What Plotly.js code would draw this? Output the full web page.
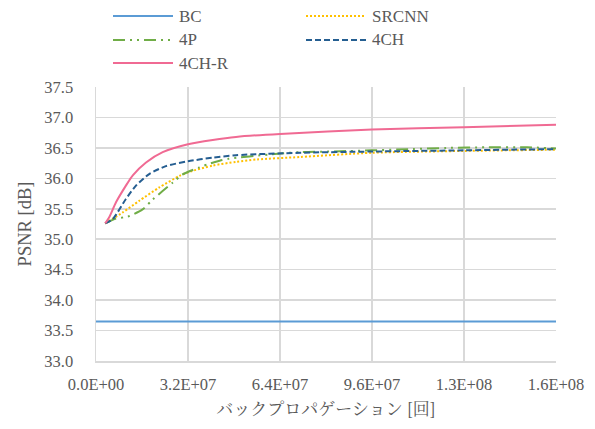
<!DOCTYPE html>
<html>
<head>
<meta charset="utf-8">
<script src="https://cdn.plot.ly/plotly-3.0.1.min.js"></script>
<style>html,body{margin:0;padding:0;background:#fff;}#chart{width:595px;height:429px;}</style>
</head>
<body>
<div id="chart"></div>
<script>
// ---- data ----
const seriesNames = ["BC", "SRCNN", "4P", "4CH", "4CH-R"];

const bcX = [0, 1.6e8];
const bcY = [33.65, 33.65];

const srcnnX = [3.2e6, 9.3e6, 1.5e7, 2.2e7, 2.9e7, 3.2e7, 4.06e7, 4.87e7, 5.6e7, 7.1e7, 9.6e7, 1.28e8, 1.6e8];
const srcnnY = [35.26, 35.44, 35.63, 35.85, 36.04, 36.10, 36.21, 36.27, 36.31, 36.35, 36.42, 36.45, 36.47];

const p4X = [3.2e6, 7.0e6, 1.1e7, 1.62e7, 1.97e7, 2.67e7, 3.0e7, 3.6e7, 3.95e7, 4.3e7, 4.6e7, 6.0e7, 7.1e7, 8.1e7, 1.10e8, 1.22e8, 1.36e8, 1.50e8, 1.6e8];
const p4Y = [35.26, 35.34, 35.37, 35.49, 35.65, 35.93, 36.06, 36.18, 36.24, 36.29, 36.32, 36.39, 36.43, 36.44, 36.48, 36.50, 36.51, 36.51, 36.49];

const ch4X = [3.2e6, 5.8e6, 1.04e7, 1.39e7, 1.85e7, 2.43e7, 3.2e7, 4.06e7, 4.87e7, 7.1e7, 9.6e7, 1.28e8, 1.6e8];
const ch4Y = [35.26, 35.33, 35.66, 35.88, 36.07, 36.20, 36.28, 36.34, 36.38, 36.42, 36.44, 36.46, 36.48];

const ch4rX = [3.2e6, 4.6e6, 7.0e6, 1.04e7, 1.28e7, 1.74e7, 2.32e7, 3.2e7, 4.06e7, 4.87e7, 6.4e7, 9.6e7, 1.28e8, 1.6e8];
const ch4rY = [35.26, 35.36, 35.61, 35.88, 36.05, 36.26, 36.43, 36.56, 36.63, 36.68, 36.73, 36.80, 36.84, 36.88];

const xTickVals = [0, 3.2e7, 6.4e7, 9.6e7, 1.28e8, 1.6e8];
const xTickText = ["0.0E+00", "3.2E+07", "6.4E+07", "9.6E+07", "1.3E+08", "1.6E+08"];
const yTickVals = [33.0, 33.5, 34.0, 34.5, 35.0, 35.5, 36.0, 36.5, 37.0, 37.5];

// ---- styles ----
const SERIF = "Liberation Serif";
const JP = "Noto Serif CJK JP";
const styles = [
  {color: "#5b9bd5", dash: "solid", width: 2},
  {color: "#ffc000", dash: "2px,2px", width: 2},
  {color: "#70ad47", dash: "12px,5px,2px,5px,2px,5px", width: 2},
  {color: "#255e91", dash: "6px,3px", width: 2},
  {color: "#f06a93", dash: "solid", width: 2}
];
const xs = [bcX, srcnnX, p4X, ch4X, ch4rX];
const ys = [bcY, srcnnY, p4Y, ch4Y, ch4rY];

const traces = seriesNames.map((n, i) => ({
  x: xs[i], y: ys[i], name: n, type: "scatter", mode: "lines",
  line: {color: styles[i].color, dash: styles[i].dash, width: styles[i].width, shape: i === 0 ? "linear" : "spline", smoothing: 0.7},
  showlegend: false, hoverinfo: "skip"
}));

// manual legend (two columns)
const W = 595, H = 429;
const legendPos = [[113, 16], [306, 16], [113, 40], [306, 40], [113, 63]];
const shapes = [], annotations = [];
seriesNames.forEach((n, i) => {
  const [lx, ly] = legendPos[i];
  shapes.push({type: "line", xref: "paper", yref: "paper",
    x0: (lx - 96) / 460, x1: (lx + 60 - 96) / 460,
    y0: (361 - ly) / 274, y1: (361 - ly) / 274,
    line: {color: styles[i].color, dash: styles[i].dash, width: styles[i].width}});
  annotations.push({xref: "paper", yref: "paper", x: (lx + 64 - 96) / 460, y: (361 - ly) / 274,
    xanchor: "left", yanchor: "middle", text: n, showarrow: false,
    font: {family: SERIF, size: 17, color: "#595959"}});
});

const layout = {
  width: W, height: H,
  margin: {l: 96, r: 39, t: 87, b: 68},
  paper_bgcolor: "#fff", plot_bgcolor: "#fff",
  font: {family: SERIF, size: 16, color: "#595959"},
  xaxis: {
    range: [0, 1.6e8], tickvals: xTickVals, ticktext: xTickText,
    showgrid: true, gridcolor: "#d9d9d9", gridwidth: 1.5,
    showline: true, linecolor: "#d9d9d9", linewidth: 1.5, mirror: false,
    zeroline: false, ticks: "outside", ticklen: 8, tickcolor: "rgba(0,0,0,0)",
    tickfont: {family: SERIF, size: 16.5, color: "#595959"},
    title: {text: "バックプロパゲーション [回]", standoff: 10,
      font: {family: JP, size: 17, color: "#595959"}}
  },
  yaxis: {
    range: [33.0, 37.5], tickvals: yTickVals, tickformat: ".1f",
    showgrid: true, gridcolor: "#d9d9d9", gridwidth: 1.5,
    showline: true, linecolor: "#d9d9d9", linewidth: 1.5,
    zeroline: false, ticks: "outside", ticklen: 18, tickcolor: "rgba(0,0,0,0)",
    tickfont: {family: SERIF, size: 16.5, color: "#595959"},
    title: {text: "PSNR [dB]", standoff: 8,
      font: {family: SERIF, size: 18.5, color: "#595959"}}
  },
  shapes: shapes,
  annotations: annotations,
  showlegend: false
};

Plotly.newPlot("chart", traces, layout, {displayModeBar: false, staticPlot: true});
</script>
</body>
</html>
